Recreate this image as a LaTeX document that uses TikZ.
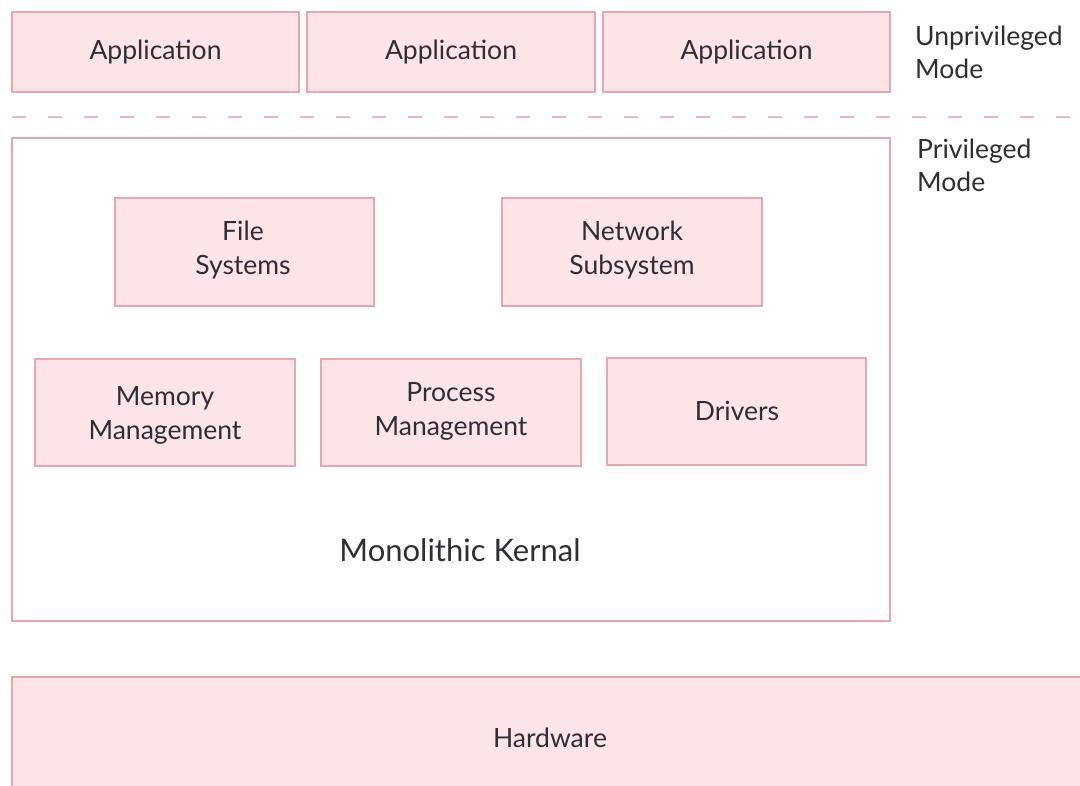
\documentclass[tikz,border=0pt]{standalone}
\usepackage{fontspec}
\setmainfont{Lato}
\definecolor{boxfill}{HTML}{FDE4E9}
\definecolor{boxline}{HTML}{E8A5B2}
\definecolor{txt}{HTML}{2E2E36}
\definecolor{dashc}{HTML}{E9B6C1}
\begin{document}
\begin{tikzpicture}[x=1pt,y=-1pt,
  box/.style={draw=boxline,fill=boxfill,line width=1.6pt},
  lbl/.style={text=txt,font=\fontsize{26.5}{34}\selectfont,align=center},
  side/.style={text=txt,font=\fontsize{26.5}{33}\selectfont,align=left,anchor=north west,inner sep=0pt}]
\useasboundingbox (0,0) rectangle (1080,786);
\fill[white] (0,0) rectangle (1080,786);
% applications
\draw[box] (12,12) rectangle (299,92); \node[lbl] (app1) at (155.5,52) {Application};
\draw[box] (307,12) rectangle (595,92); \node[lbl] (app2) at (451,52) {Application};
\draw[box] (603,12) rectangle (890,92); \node[lbl] (app3) at (746.5,52) {Application};
\node[side] (unpriv) at (915,26) {Unprivileged\\Mode};
% dashed line
\draw[dashc,line width=1.6pt,dash pattern=on 14pt off 22pt] (12,117) -- (1075,117);
% kernel
\draw[draw=boxline,line width=1.6pt,fill=white] (12,138) rectangle (890,621);
\node[side] (priv) at (917,139) {Privileged\\Mode};
\draw[box] (115,198) rectangle (374,306); \node[lbl] (fs) at (243,250) {File\\Systems};
\draw[box] (502,198) rectangle (762,306); \node[lbl] (net) at (632,250) {Network\\Subsystem};
\draw[box] (35,359) rectangle (295,466); \node[lbl] (mem) at (165,415) {Memory\\Management};
\draw[box] (321,359) rectangle (581,466); \node[lbl] (proc) at (451,411) {Process\\Management};
\draw[box] (607,358) rectangle (866,465); \node[lbl] (drv) at (737,411) {Drivers};
\node[text=txt,font=\fontsize{31}{36}\selectfont] (kern) at (460,550) {Monolithic Kernal};
% hardware
\draw[box] (12,677) rectangle (1090,800);
\node[lbl] (hw) at (550,738) {Hardware};
\end{tikzpicture}
\end{document}
